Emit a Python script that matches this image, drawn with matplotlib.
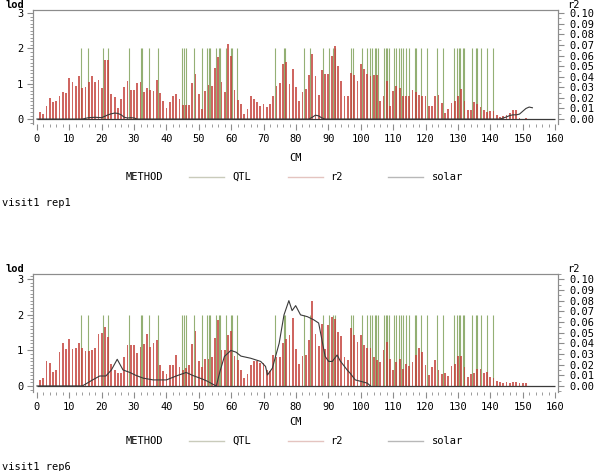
import numpy as np
import matplotlib
matplotlib.use("Agg")
import matplotlib.pyplot as plt
from matplotlib.lines import Line2D
from matplotlib.ticker import MultipleLocator, FixedLocator

FONT = "DejaVu Sans Mono"

# ---------------- data ----------------
# QTL marker positions (cM), drawn up to lod = 2
qtl_cm = [13.5, 15.8, 20.4, 22.0, 28.4, 32.1, 32.6, 34.6, 37.3, 44.8, 45.3, 45.9,
          48.5, 50.9, 52.6, 53.2, 53.6, 55.3, 56.1, 56.5, 58.3, 59.9, 60.3, 61.9,
          73.4, 76.2, 76.6, 82.4, 84.3, 88.4, 90.2, 91.3, 92.2, 97.1, 97.6, 100.5,
          101.8, 103.0, 103.6, 104.3, 104.8, 105.2, 107.1, 107.7, 108.2, 108.6,
          110.3, 111.0, 111.8, 112.3, 113.1, 113.9, 114.8, 116.7, 117.2, 118.5,
          120.6, 123.4, 125.4, 128.7, 129.8, 130.2, 130.5, 131.6, 131.9, 134.2,
          135.7, 136.0, 137.2, 139.0, 140.9]
qtl_height = 2.0

# r2 bars, one per cM (1..151), expressed on the lod axis (r2 = value / 30)
r2_rep1 = [0.19, 0.15, 0.38, 0.59, 0.47, 0.50, 0.64, 0.78, 0.74, 1.15,
           1.05, 0.94, 1.22, 0.88, 0.91, 1.06, 1.23, 1.06, 1.12, 0.88,
           1.68, 1.67, 0.72, 0.63, 0.31, 0.58, 0.91, 1.07, 0.83, 0.83,
           1.02, 1.04, 0.78, 0.89, 0.83, 0.79, 1.10, 0.74, 0.50, 0.30,
           0.49, 0.64, 0.72, 0.57, 0.41, 0.40, 0.40, 1.02, 1.29, 0.72,
           0.29, 0.80, 0.97, 0.93, 1.45, 1.76, 1.05, 0.78, 2.12, 1.80,
           0.81, 0.55, 0.44, 0.14, 0.28, 0.66, 0.57, 0.49, 0.38, 0.44,
           0.34, 0.44, 0.64, 0.93, 1.02, 1.57, 1.62, 1.00, 1.42, 0.91,
           0.51, 0.76, 0.85, 1.26, 1.83, 1.21, 0.69, 1.38, 1.29, 1.29,
           1.78, 2.07, 1.50, 1.09, 0.66, 0.66, 1.31, 1.26, 1.07, 1.57,
           1.42, 1.29, 1.21, 1.26, 1.26, 0.50, 0.64, 1.07, 0.36, 0.79,
           0.95, 0.88, 0.64, 0.64, 0.64, 0.83, 0.76, 0.69, 0.66, 0.64,
           0.38, 0.36, 0.66, 0.69, 0.45, 0.17, 0.28, 0.45, 0.50, 0.66,
           0.85, 0.50, 0.27, 0.27, 0.47, 0.44, 0.34, 0.27, 0.19, 0.22,
           0.22, 0.12, 0.06, 0.08, 0.12, 0.17, 0.27, 0.27, 0.03, 0.00,
           0.04]
r2_rep6 = [0.18, 0.21, 0.69, 0.65, 0.39, 0.44, 0.95, 1.21, 1.03, 1.32,
           1.03, 1.06, 1.21, 1.06, 0.97, 0.97, 1.00, 1.06, 1.47, 1.49,
           1.67, 1.37, 0.63, 0.46, 0.36, 0.36, 0.81, 1.16, 1.16, 1.16,
           0.94, 1.11, 1.17, 1.45, 1.11, 1.21, 1.30, 0.60, 0.41, 0.35,
           0.58, 0.59, 0.86, 0.53, 0.46, 0.51, 0.58, 1.17, 1.56, 0.70,
           0.53, 0.75, 0.76, 0.81, 1.35, 1.86, 1.00, 1.02, 1.43, 1.56,
           0.83, 0.74, 0.46, 0.21, 0.33, 0.58, 0.70, 0.70, 0.64, 0.64,
           0.46, 0.41, 0.86, 0.81, 0.81, 1.21, 1.33, 1.42, 1.91, 1.05,
           0.61, 0.84, 0.87, 1.29, 2.38, 1.46, 1.12, 1.74, 1.03, 1.72,
           1.93, 1.88, 1.53, 1.41, 0.82, 0.73, 1.62, 1.43, 1.25, 1.43,
           1.15, 1.08, 1.06, 0.82, 0.73, 0.68, 1.01, 1.25, 0.77, 0.44,
           0.68, 0.77, 0.49, 0.63, 0.56, 0.68, 0.87, 1.06, 0.96, 0.58,
           0.30, 0.54, 0.73, 0.44, 0.35, 0.37, 0.27, 0.56, 0.63, 0.84,
           0.84, 0.54, 0.24, 0.33, 0.37, 0.49, 0.49, 0.37, 0.40, 0.25,
           0.21, 0.14, 0.11, 0.08, 0.10, 0.09, 0.10, 0.10, 0.08, 0.08,
           0.08]

# solar lod curves
solar_rep1_cm = [0, 14, 16, 18, 20, 21, 22, 23, 24, 25, 26, 27, 28, 29, 30, 31,
                 84, 85, 86, 87, 88, 89, 143, 144, 145, 146, 147, 148, 149, 150,
                 151, 152, 153]
solar_rep1 = [0, 0, 0.04, 0.05, 0.04, 0.08, 0.12, 0.15, 0.17, 0.16, 0.12, 0.05,
              0.03, 0.04, 0.03, 0, 0, 0.05, 0.11, 0.09, 0.03, 0, 0, 0.03, 0.06,
              0.10, 0.12, 0.12, 0.14, 0.22, 0.30, 0.34, 0.32]
solar_rep6_cm = [0, 14, 15, 17, 19.4, 21.3, 23, 24.8, 26.6, 28.7, 30.5, 32.8,
                 35.9, 40, 43, 46.1, 48, 51.2, 52.5, 54.9, 55.4, 56.5, 57.9, 59.9,
                 61.5, 63, 66, 69.1, 70.6, 71.2, 72.7, 74.8, 76.3, 77.8, 78.8,
                 79.9, 81.4, 83.5, 85.5, 87, 88, 89, 90.1, 91.2, 92.7, 93.7, 95.8,
                 96.8, 98.3, 100.4, 102, 103]
solar_rep6 = [0, 0, 0.05, 0.16, 0.28, 0.28, 0.45, 0.75, 0.45, 0.38, 0.30, 0.22,
              0.17, 0.17, 0.28, 0.38, 0.30, 0.19, 0.14, 0.02, 0.0, 0.4, 0.83, 1.0,
              0.95, 0.84, 0.78, 0.69, 0.55, 0.31, 0.5, 1.2, 2.0, 2.4, 2.12, 2.26,
              2.0, 1.95, 1.86, 1.77, 1.3, 0.83, 0.69, 0.69, 0.87, 0.7, 0.45, 0.35,
              0.17, 0.12, 0.08, 0.0]

x_ticks = [0, 10, 20, 30, 40, 50, 60, 70, 80, 90, 100, 110, 120, 130, 140, 150, 160]
lod_ticks = [0, 1, 2, 3]
r2_ticks = [0.00, 0.01, 0.02, 0.03, 0.04, 0.05, 0.06, 0.07, 0.08, 0.09, 0.10]
r2_tick_labels = ["0.00", "0.01", "0.02", "0.03", "0.04", "0.05", "0.06",
                  "0.07", "0.08", "0.09", "0.10"]
panel_names = ["visit1 rep1", "visit1 rep6"]
legend_labels = ["QTL", "r2", "solar"]

C_QTL = "#7a9c52"
C_R2 = "#c4403a"
C_SOLAR = "#3a3a3a"
C_AX = "#8c8c8c"

# ---------------- figure ----------------
W, H = 600, 471
fig = plt.figure(figsize=(W / 100, H / 100), dpi=100)
fig.patch.set_facecolor("white")


def ftext(x, y, s, **kw):
    kw.setdefault("fontfamily", FONT)
    kw.setdefault("fontsize", 7.5)
    kw.setdefault("va", "center")
    fig.text(x / W, 1 - y / H, s, **kw)


def fline(x0, x1, y, color):
    fig.add_artist(Line2D([x0 / W, x1 / W], [1 - y / H, 1 - y / H],
                          transform=fig.transFigure, color=color, lw=1.0))


panels = [
    dict(rect=(33, 10, 525, 114), ylim=(-0.14, 3.09), bars=r2_rep1,
         scm=solar_rep1_cm, sv=solar_rep1, dy=0),
    dict(rect=(33, 274, 525, 118), ylim=(-0.17, 3.15), bars=r2_rep6,
         scm=solar_rep6_cm, sv=solar_rep6, dy=264),
]

for i, p in enumerate(panels):
    x0, y0, w, h = p["rect"]
    ax = fig.add_axes([x0 / W, 1 - (y0 + h) / H, w / W, h / H])
    ax.set_xlim(-1.2, 160.9)
    ax.set_ylim(*p["ylim"])

    cm = np.arange(1, len(p["bars"]) + 1)
    ax.vlines(qtl_cm, 0, qtl_height, color=C_QTL, lw=0.8, alpha=0.8, zorder=1)
    ax.bar(cm, p["bars"], width=0.55, color=C_R2, alpha=0.8, linewidth=0, zorder=2)
    ax.hlines(0, x_ticks[0], x_ticks[-1], color=C_SOLAR, lw=0.9, zorder=3)
    ax.plot(p["scm"], p["sv"], color=C_SOLAR, lw=0.8, zorder=4)

    for s in ax.spines.values():
        s.set_color(C_AX)
        s.set_linewidth(0.8)
    ax.spines["bottom"].set_visible(False)

    ax.xaxis.set_major_locator(FixedLocator(x_ticks))
    ax.xaxis.set_minor_locator(MultipleLocator(2))
    ax.yaxis.set_major_locator(FixedLocator(lod_ticks))
    ax.yaxis.set_minor_locator(MultipleLocator(0.1))
    ax.tick_params(axis="both", which="major", direction="out", length=4,
                   width=0.8, color=C_AX, labelsize=7.5, pad=3)
    ax.tick_params(axis="both", which="minor", direction="out", length=2,
                   width=0.6, color=C_AX)
    ax.tick_params(axis="y", pad=3)
    for lab in ax.get_xticklabels() + ax.get_yticklabels():
        lab.set_fontfamily(FONT)

    ax2 = ax.twinx()
    lo, hi = p["ylim"]
    ax2.set_ylim(lo / 30, hi / 30)
    ax2.set_yticks(r2_ticks)
    ax2.set_yticklabels(r2_tick_labels, fontfamily=FONT, fontsize=7.5)
    ax2.yaxis.set_minor_locator(MultipleLocator(0.005))
    ax2.tick_params(axis="y", which="major", direction="out", length=4,
                    width=0.8, color=C_AX, pad=4)
    ax2.tick_params(axis="y", which="minor", direction="out", length=2,
                    width=0.6, color=C_AX)
    for s in ax2.spines.values():
        s.set_color(C_AX)
        s.set_linewidth(0.8)
    ax2.spines["bottom"].set_visible(False)

    dy = p["dy"]
    ftext(5, 5 + dy, "lod", fontsize=7.5, ha="left", fontweight="bold")
    ftext(567, 5 + dy, "r2", fontsize=7.5, ha="left")
    ftext(296, 158 + dy, "CM", ha="center")
    ftext(126, 177 + dy, "METHOD", ha="left")
    fline(189, 224, 177 + dy, "#c9cbbb")
    ftext(232, 177 + dy, legend_labels[0], ha="left")
    fline(288, 323, 177 + dy, "#e4c4c0")
    ftext(330, 177 + dy, legend_labels[1], ha="left")
    fline(388, 423, 177 + dy, "#b8b8b8")
    ftext(432, 177 + dy, legend_labels[2], ha="left")
    ftext(2, 203 + dy, panel_names[i], ha="left")

fig.savefig("out.png", dpi=100, facecolor="white")
